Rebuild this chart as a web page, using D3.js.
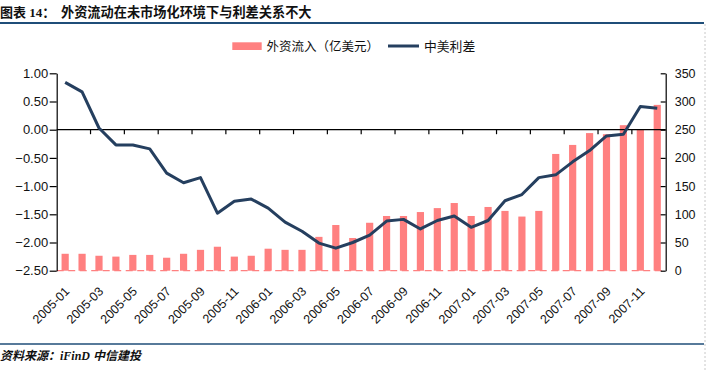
<!DOCTYPE html>
<html><head><meta charset="utf-8">
<script src="https://cdn.jsdelivr.net/npm/d3@7"></script>
<style>
body{margin:0;background:#fff;}
svg{display:block;}
</style></head>
<body>
<svg id="c" width="706" height="371"></svg>
<script>
const months = ["2005-01","2005-02","2005-03","2005-04","2005-05","2005-06","2005-07","2005-08","2005-09","2005-10","2005-11","2005-12",
"2006-01","2006-02","2006-03","2006-04","2006-05","2006-06","2006-07","2006-08","2006-09","2006-10","2006-11","2006-12",
"2007-01","2007-02","2007-03","2007-04","2007-05","2007-06","2007-07","2007-08","2007-09","2007-10","2007-11","2007-12"];
const inflow = [30,30,26.5,25,28,28,23,30,37,42.5,25,26.5,39,37,37,60,81,58,85,97,97,104,111,120,97,113,106,96,106,207,223,244,242,258,251,294];
const spread = [0.84,0.67,0.03,-0.27,-0.27,-0.34,-0.77,-0.94,-0.85,-1.48,-1.27,-1.23,-1.39,-1.64,-1.80,-2.01,-2.10,-2.00,-1.87,-1.62,-1.59,-1.76,-1.61,-1.53,-1.73,-1.61,-1.26,-1.15,-0.85,-0.80,-0.57,-0.37,-0.11,-0.08,0.41,0.38];
const leftTicks = [1.0,0.5,0,-0.5,-1.0,-1.5,-2.0,-2.5];
const rightTicks = [0,50,100,150,200,250,300,350];
const xLabels = months.filter((d,i)=>i%2===0);
const title1 = "图表 14：";
const title2 = "外资流动在未市场化环境下与利差关系不大";
const legendBar = "外资流入（亿美元）";
const legendLine = "中美利差";
const source1 = "资料来源：";
const source2 = "iFinD  中信建投";

const svg = d3.select("#c");
const L = 56.7, R = 665.7, T = 73.3, B = 270.7;
const x = d3.scaleBand().domain(months).range([L,R]).paddingInner(0).paddingOuter(0);
const yL = d3.scaleLinear().domain([-2.5,1]).range([B,T]);
const yR = d3.scaleLinear().domain([0,350]).range([B,T]);
const font = "'Liberation Sans', Arial, sans-serif";

// title
svg.append("text").attr("x",0).attr("y",17).attr("font-family","'Liberation Serif','Noto Sans CJK SC',serif")
  .attr("font-weight","bold").attr("font-size",13).attr("fill","#111").text(title1);
svg.append("text").attr("x",61).attr("y",17).attr("font-family","'Noto Sans CJK SC',sans-serif")
  .attr("font-weight","bold").attr("font-size",13.2).attr("fill","#111").text(title2);
svg.append("line").attr("x1",0).attr("x2",704).attr("y1",23).attr("y2",23).attr("stroke","#1F4E79").attr("stroke-width",2.2);
svg.append("line").attr("x1",0).attr("x2",704).attr("y1",344).attr("y2",344).attr("stroke","#1F4E79").attr("stroke-width",1.6);
svg.append("line").attr("x1",705).attr("x2",705).attr("y1",24).attr("y2",371).attr("stroke","#c8c8c8").attr("stroke-dasharray","2,2");

// legend
svg.append("rect").attr("x",232.3).attr("y",42.3).attr("width",29.4).attr("height",7.7).attr("fill","#FF8080");
svg.append("text").attr("x",266.5).attr("y",51).attr("font-family","'Noto Sans CJK SC',sans-serif").attr("font-size",12.5).attr("fill","#111").text(legendBar);
svg.append("line").attr("x1",388).attr("x2",419).attr("y1",46).attr("y2",46).attr("stroke","#253F5F").attr("stroke-width",3);
svg.append("text").attr("x",424).attr("y",51).attr("font-family","'Noto Sans CJK SC',sans-serif").attr("font-size",12.8).attr("fill","#111").text(legendLine);

// bars
const bw = 7.2;
svg.append("g").selectAll("rect").data(months).join("rect")
  .attr("x",(d)=>x(d)+x.bandwidth()/2-bw/2)
  .attr("width",bw)
  .attr("y",(d,i)=>yR(inflow[i]))
  .attr("height",(d,i)=>yR(0)-yR(inflow[i]))
  .attr("fill","#FF8080");

// bottom dashed line
svg.append("line").attr("x1",L).attr("x2",R).attr("y1",B).attr("y2",B).attr("stroke","#FF8080").attr("stroke-width",1.2).attr("stroke-dasharray","7,4.5");

// left axis
const ga = svg.append("g").attr("transform",`translate(${L},0)`)
  .call(d3.axisLeft(yL).tickValues(leftTicks).tickFormat(d3.format(".2f")).tickSizeInner(7).tickSizeOuter(0).tickPadding(1.5));
ga.selectAll("text").attr("font-family",font).attr("font-size",13).attr("fill","#111");
ga.selectAll("line,path").attr("stroke","#000").attr("stroke-width",1.2);

// right axis
const gr = svg.append("g").attr("transform",`translate(${R},0)`)
  .call(d3.axisRight(yR).tickValues(rightTicks).tickSizeInner(-5).tickSizeOuter(0).tickPadding(9));
gr.selectAll("text").attr("font-family",font).attr("font-size",12.5).attr("fill","#111");
gr.selectAll("line,path").attr("stroke","#000").attr("stroke-width",1.2);

// zero axis with ticks every 2 months
const y0 = yL(0);
svg.append("line").attr("x1",L).attr("x2",R).attr("y1",y0).attr("y2",y0).attr("stroke","#000").attr("stroke-width",1.2);
svg.append("g").selectAll("line").data(months.filter((d,i)=>i%2===0 && i>0)).join("line")
  .attr("x1",d=>x(d)).attr("x2",d=>x(d)).attr("y1",y0).attr("y2",y0+4.5).attr("stroke","#000").attr("stroke-width",1.2);

// x labels
svg.append("g").selectAll("text").data(xLabels).join("text")
  .attr("transform",d=>`translate(${x(d)+x.bandwidth()/2+2},${289}) rotate(-45)`)
  .attr("text-anchor","end").attr("dy","0.35em")
  .attr("font-family",font).attr("font-size",12.5).attr("fill","#111").text(d=>d);

// line
const line = d3.line().x((d,i)=>x(months[i])+x.bandwidth()/2).y(d=>yL(d));
svg.append("path").datum(spread).attr("d",line).attr("fill","none").attr("stroke","#253F5F").attr("stroke-width",3).attr("stroke-linejoin","round");

// source
const st = svg.append("text").attr("x",0).attr("y",360).attr("font-size",12).attr("font-weight","bold").attr("font-style","italic").attr("fill","#111");
st.append("tspan").attr("font-family","'Noto Sans CJK SC',serif").text(source1);
st.append("tspan").attr("font-family","'Liberation Serif','Noto Sans CJK SC',serif").text(source2);
</script>
</body></html>
